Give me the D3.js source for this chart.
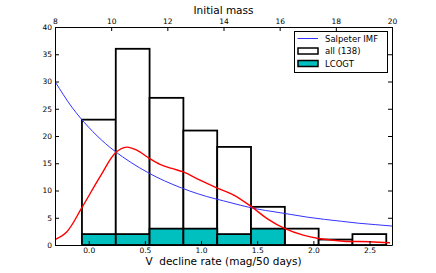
<!DOCTYPE html>
<html><head><meta charset="utf-8">
<script src="https://cdn.jsdelivr.net/npm/d3@7"></script>
<style>body{margin:0;background:#fff;} text{font-family:"DejaVu Sans",sans-serif;fill:#000;}</style>
</head><body>
<svg id="c" width="436" height="273"></svg>
<script>
// Data
const binEdges = [-0.06, 0.241, 0.542, 0.843, 1.144, 1.445, 1.746, 2.047, 2.348, 2.649];
const allCounts = [23, 36, 27, 21, 18, 7, 3, 1, 2];
const lcogtCounts = [2, 2, 3, 3, 2, 3, 0, 0, 0];
const salpeterX = [-0.3,-0.15,0,0.15,0.3,0.45,0.6,0.75,0.9,1.05,1.2,1.35,1.5,1.65,1.8,1.95,2.1,2.25,2.4,2.55,2.7];
const salpeterY = [30,25.3,21.6,18.6,16.2,14.2,12.5,11.1,9.9,8.9,8.1,7.3,6.6,6.1,5.6,5.1,4.7,4.35,4.0,3.74,3.48];
const kdeX = [-0.3,-0.196,-0.062,0.1,0.243,0.338,0.427,0.54,0.635,0.739,0.842,0.991,1.139,1.287,1.451,1.585,1.748,1.91,2.047,2.267,2.504,2.682];
const kdeY = [1.0,2.4,6.8,12.5,17.0,17.96,17.4,15.9,14.8,14.05,13.4,11.9,10.5,9.2,7.0,4.9,3.0,1.8,1.2,0.7,0.6,0.4];
const bottomTicks = [0.0,0.5,1.0,1.5,2.0,2.5];
const topTicks = [8,10,12,14,16,18,20];
const yTicks = [0,5,10,15,20,25,30,35,40];
const legendLabels = ["Salpeter IMF","all (138)","LCOGT"];

const L=55, R=392, T=27, B=245;
const svg = d3.select("#c");
const x = d3.scaleLinear().domain([-0.3,2.7]).range([L,R]);
const xTop = d3.scaleLinear().domain([8,20]).range([L,R]);
const y = d3.scaleLinear().domain([0,40]).range([B,T]);

const g = svg.append("g");
g.selectAll("rect.all").data(allCounts).join("rect")
  .attr("x",(d,i)=>x(binEdges[i])).attr("width",(d,i)=>x(binEdges[i+1])-x(binEdges[i]))
  .attr("y",d=>y(d)).attr("height",d=>y(0)-y(d))
  .attr("fill","#fff").attr("stroke","#000").attr("stroke-width",1.8);
g.selectAll("rect.lc").data(lcogtCounts).join("rect")
  .attr("x",(d,i)=>x(binEdges[i])).attr("width",(d,i)=>x(binEdges[i+1])-x(binEdges[i]))
  .attr("y",d=>y(d)).attr("height",d=>y(0)-y(d))
  .attr("fill","#00bfbf").attr("stroke","#000").attr("stroke-width",d=>d>0?1.8:0);

svg.append("clipPath").attr("id","cp").append("rect").attr("x",L).attr("y",T).attr("width",R-L).attr("height",B-T);
const line = d3.line().curve(d3.curveMonotoneX);
svg.append("path").attr("clip-path","url(#cp)")
  .attr("d",line(salpeterX.map((v,i)=>[x(v),y(salpeterY[i])])))
  .attr("fill","none").attr("stroke","#3333ff").attr("stroke-width",1);
svg.append("path").attr("clip-path","url(#cp)")
  .attr("d",d3.line().curve(d3.curveCatmullRom.alpha(0.5))(kdeX.map((v,i)=>[x(v),y(kdeY[i])])))
  .attr("fill","none").attr("stroke","#ff0000").attr("stroke-width",1.4);

const fs = "7.5px";
const axB = svg.append("g").attr("transform",`translate(0,${B})`)
  .call(d3.axisBottom(x).tickValues(bottomTicks).tickFormat(d3.format(".1f")).tickSizeInner(-4).tickSizeOuter(0).tickPadding(2.5));
const axT = svg.append("g").attr("transform",`translate(0,${T})`)
  .call(d3.axisTop(xTop).tickValues(topTicks).tickFormat(d3.format("d")).tickSizeInner(-4).tickSizeOuter(0).tickPadding(3.5));
const axL = svg.append("g").attr("transform",`translate(${L},0)`)
  .call(d3.axisLeft(y).tickValues(yTicks).tickSizeInner(-4).tickSizeOuter(0).tickPadding(3));
const axR = svg.append("g").attr("transform",`translate(${R},0)`)
  .call(d3.axisRight(y).tickValues(yTicks).tickFormat("").tickSizeInner(-4).tickSizeOuter(0));
[axB,axT,axL,axR].forEach(a=>{
  a.selectAll("path.domain").attr("stroke","#000").attr("stroke-width",1);
  a.selectAll("line").attr("stroke","#000");
  a.selectAll("text").style("font-size",fs).attr("fill","#000").style("font-family","DejaVu Sans");
});

svg.append("text").attr("x",(L+R)/2).attr("y",14).attr("text-anchor","middle").style("font-size","10.5px").text("Initial mass");
svg.append("text").attr("x",(L+R)/2).attr("y",265).attr("text-anchor","middle").style("font-size","10.5px").style("white-space","pre").text("V  decline rate (mag/50 days)");

const lg = svg.append("g");
lg.append("rect").attr("x",294.5).attr("y",31.5).attr("width",93).attr("height",41).attr("fill","#fff").attr("stroke","#000").attr("stroke-width",1);
const rows = [38.5,51,63.5];
lg.append("line").attr("x1",297.5).attr("x2",318).attr("y1",rows[0]).attr("y2",rows[0]).attr("stroke","#3333ff").attr("stroke-width",1);
lg.append("rect").attr("x",298).attr("y",rows[1]-3).attr("width",20).attr("height",6).attr("fill","#fff").attr("stroke","#000").attr("stroke-width",1.5);
lg.append("rect").attr("x",298).attr("y",rows[2]-3).attr("width",20).attr("height",6).attr("fill","#00bfbf").attr("stroke","#000").attr("stroke-width",1.5);
lg.selectAll("text.l").data(legendLabels).join("text").attr("x",325).attr("y",(d,i)=>rows[i]+3).style("font-size","8.5px").text(d=>d);
</script>
</body></html>
